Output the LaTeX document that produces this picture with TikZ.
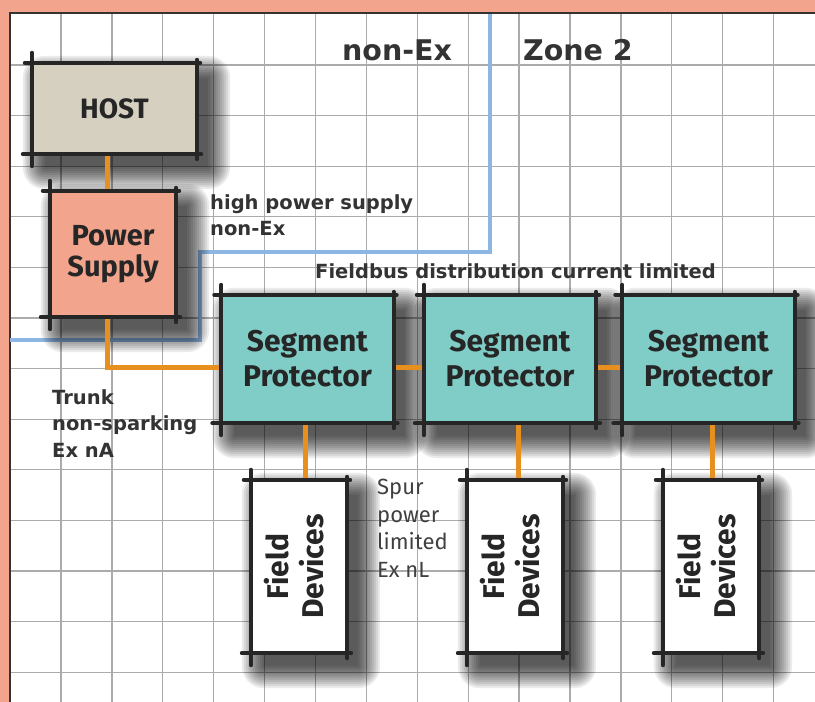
\documentclass[tikz,border=0pt]{standalone}
\usepackage{fontspec}
\setsansfont{Fira Sans}
\newfontfamily\labelfont{DejaVu Sans}
\newfontfamily\spurfont{Fira Sans}
\usetikzlibrary{calc}

\definecolor{salmon}{HTML}{F2A48C}
\definecolor{hostgray}{HTML}{D6D0C1}
\definecolor{psred}{HTML}{F2A48C}
\definecolor{spteal}{HTML}{80CDC7}
\definecolor{wireorange}{HTML}{E8901F}
\definecolor{zoneblue}{HTML}{8DB7E3}

\pgfdeclarelayer{paper}
\pgfdeclarelayer{shade}
\pgfsetlayers{paper,shade,main}

\begin{document}
\begin{tikzpicture}[x=1pt, y=-1pt,
    box/.style={inner sep=0pt, align=center, text=black!85,
        font=\sffamily\bfseries\fontsize{30}{35}\selectfont},
    segbox/.style={box, fill=spteal, minimum width=172pt, minimum height=128pt},
    devbox/.style={box, fill=white, minimum width=96pt, minimum height=173pt},
    rim/.style={black!85, line width=4pt, line cap=round},
    wire/.style={wireorange, line width=5pt},
    zone/.style={zoneblue, line width=4pt},
    gridline/.style={black!33, line width=1.3pt},
    lbl/.style={inner sep=0pt, text=black!80, align=left,
        font=\labelfont\bfseries\fontsize{19.5}{26.5}\selectfont},
    bigl/.style={lbl, font=\labelfont\bfseries\fontsize{28.5}{30}\selectfont},
    spurl/.style={lbl, text=black!75, font=\spurfont\fontsize{22}{27.5}\selectfont}]
    \useasboundingbox (0,0) rectangle (815,702);

    % paper and grid
    \begin{pgfonlayer}{paper}
        \fill[white] (0,0) rectangle (815,702);
        \foreach \k in {0,...,14}
            \draw[gridline] ({61+50.9*\k},14) -- ({61+50.9*\k},702);
        \foreach \k in {0,...,12}
            \draw[gridline] (11,{65+50.6*\k}) -- (815,{65+50.6*\k});
        \fill[salmon] (0,0) rectangle (815,12);
        \fill[salmon] (0,0) rectangle (9,702);
        \draw[black!80, line width=2pt] (10,702) -- (10,13) -- (815,13);
        % zone boundary
        \draw[zone] (10,340) -- (200,340) -- (200,252) -- (490,252) -- (490,14);
    \end{pgfonlayer}

    \node[box, fill=hostgray, minimum width=165pt, minimum height=91pt,
        font=\sffamily\bfseries\fontsize{28}{30}\selectfont] (host) at (114.5,108.5) {HOST};
    \node[box, fill=psred, minimum width=126pt, minimum height=126pt,
        font=\sffamily\bfseries\fontsize{29}{31}\selectfont] (ps) at (113,254) {Power\\Supply};
    \node[segbox] (sp1) at (307.5,359) {Segment\\Protector};
    \node[segbox] (sp2) at (510,359) {Segment\\Protector};
    \node[segbox] (sp3) at (708.5,359) {Segment\\Protector};
    \node[devbox] (fd1) at (299,566.5) {\rotatebox{90}{\begin{tabular}{@{}c@{}}Field\\Devices\end{tabular}}};
    \node[devbox] (fd2) at (515,566.5) {\rotatebox{90}{\begin{tabular}{@{}c@{}}Field\\Devices\end{tabular}}};
    \node[devbox] (fd3) at (711,566.5) {\rotatebox{90}{\begin{tabular}{@{}c@{}}Field\\Devices\end{tabular}}};

    % soft shadows
    \begin{pgfonlayer}{shade}
        \foreach \b in {host,ps,sp1,sp2,sp3,fd1,fd2,fd3}
            \foreach \r in {0,2,...,22}
                \fill[black, opacity=0.08, rounded corners=\r pt]
                    ($(\b.north west)+(13-\r,15-\r)$) rectangle ($(\b.south east)+(11+\r,13+\r)$);
    \end{pgfonlayer}

    % trunk and spurs
    \draw[wire] ([xshift=-7pt]host.south) -- ([xshift=-7pt]host.south |- ps.north);
    \draw[wire] ([xshift=-6pt]ps.south) |- ([yshift=-8pt]sp1.west);
    \draw[wire] ([yshift=-8pt]sp1.east) -- ([yshift=-8pt]sp2.west);
    \draw[wire] ([yshift=-8pt]sp2.east) -- ([yshift=-8pt]sp3.west);
    \draw[wire] ([xshift=-2pt]sp1.south) -- ([xshift=-2pt]sp1.south |- fd1.north);
    \draw[wire] ([xshift=8pt]sp2.south) -- ([xshift=8pt]sp2.south |- fd2.north);
    \draw[wire] ([xshift=4pt]sp3.south) -- ([xshift=4pt]sp3.south |- fd3.north);

    % sketchy outlines
    \foreach \b in {host,ps,sp1,sp2,sp3,fd1,fd2,fd3} {
        \draw[rim] ($(\b.north west)+(-7,0)$) -- ($(\b.north east)+(3,0)$);
        \draw[rim] ($(\b.south west)+(-9,0)$) -- ($(\b.south east)+(4,0)$);
        \draw[rim] ($(\b.north west)+(0,-10)$) -- ($(\b.south west)+(0,12)$);
        \draw[rim] ($(\b.north east)+(0,-3)$) -- ($(\b.south east)+(0,5)$);
    }

    % labels
    \node[bigl, anchor=base west] (nonex) at (342,60) {non-Ex};
    \node[bigl, anchor=base west] (zone2) at (523,60) {Zone 2};
    \node[lbl, anchor=north west] (hps) at (210,194) {high power supply\\non-Ex};
    \node[lbl, anchor=base west] (fbus) at (315,278) {Fieldbus distribution current limited};
    \node[lbl, anchor=north west] (trunk) at (52,389) {Trunk\\non-sparking\\Ex nA};
    \node[spurl, anchor=north west] (spur) at (377,479) {Spur\\power\\limited\\Ex nL};
\end{tikzpicture}
\end{document}
